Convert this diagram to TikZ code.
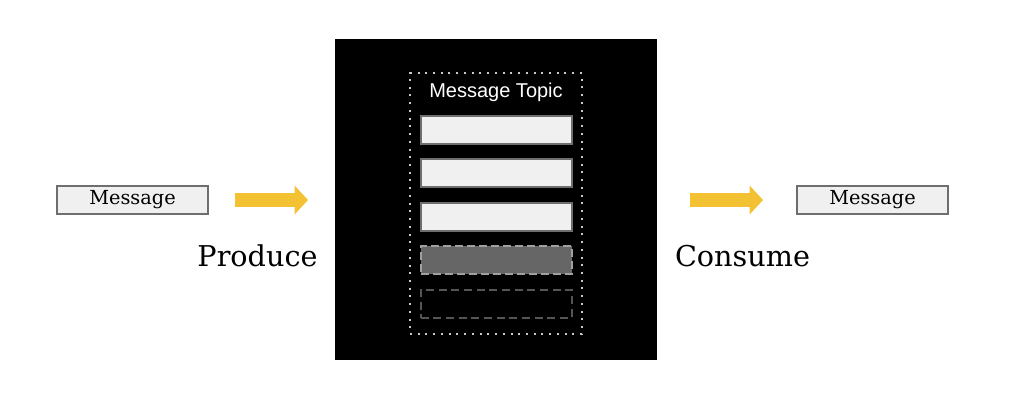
\documentclass[tikz,border=0pt]{standalone}
\usepackage{fontspec}
\setmainfont{DejaVu Serif}
\newfontfamily\topicfont{Liberation Sans}
\usetikzlibrary{arrows.meta}
\definecolor{boxfill}{HTML}{F0F0F0}
\definecolor{boxline}{HTML}{6E6E6E}
\definecolor{arrowc}{HTML}{F2C232}
\definecolor{slotgray}{HTML}{666666}
\definecolor{slotdash}{HTML}{A0A0A0}
\definecolor{emptydash}{HTML}{555555}
\definecolor{dotc}{HTML}{C8C8C8}
\tikzset{
  msgbox/.style={draw=boxline, fill=boxfill, line width=1.5pt, minimum width=151*0.75pt, minimum height=28*0.75pt, inner sep=0pt, font=\fontsize{14.5pt}{16pt}\selectfont},
  slotbox/.style={draw=boxline, fill=boxfill, line width=1.5pt, minimum width=151*0.75pt, minimum height=28*0.75pt, inner sep=0pt},
  usedslot/.style={draw=slotdash, fill=slotgray, line width=1.5pt, dash pattern=on 6pt off 3pt, minimum width=151*0.75pt, minimum height=28*0.75pt, inner sep=0pt},
  emptyslot/.style={draw=emptydash, line width=1.5pt, dash pattern=on 6pt off 3.5pt, minimum width=151*0.75pt, minimum height=28*0.75pt, inner sep=0pt},
  bigword/.style={anchor=base, inner sep=0pt, font=\fontsize{21.5pt}{24pt}\selectfont},
  flow/.style={arrowc, line width=10.5pt, -{Triangle[length=10pt, width=21pt]}},
}
\begin{document}
\begin{tikzpicture}[x=0.75pt, y=-0.75pt]
\useasboundingbox[fill=white] (0,0) rectangle (1016,408);
% left message
\node[msgbox] (msgL) at (132.5,200) {Message};
\coordinate (a1s) at (235,200);
\coordinate (a1e) at (308,200);
\draw[flow] (a1s) -- (a1e);
\node[bigword] (produce) at (257.5,266) {Produce};
% black panel
\node[fill=black, minimum width=322*0.75pt, minimum height=321*0.75pt, inner sep=0pt] (panel) at (496,199.5) {};
\node[draw=dotc, line width=1.5pt, dash pattern=on 1.5pt off 4.3pt, minimum width=172*0.75pt, minimum height=261*0.75pt, inner sep=0pt] (topic) at (496,203.5) {};
\node[text=white, font=\topicfont\fontsize{15pt}{17pt}\selectfont, inner sep=0pt] (topiclabel) at (496,92) {Message Topic};
\node[slotbox] (s1) at (496,129.5) {};
\node[slotbox] (s2) at (496,172.5) {};
\node[slotbox] (s3) at (496,216.5) {};
\node[usedslot] (s4) at (496,259.5) {};
\node[emptyslot] (s5) at (496,303.5) {};
% right side
\coordinate (a2s) at (690,200);
\coordinate (a2e) at (763,200);
\draw[flow] (a2s) -- (a2e);
\node[bigword] (consume) at (742.5,266) {Consume};
\node[msgbox] (msgR) at (872.5,200) {Message};
\end{tikzpicture}
\end{document}
